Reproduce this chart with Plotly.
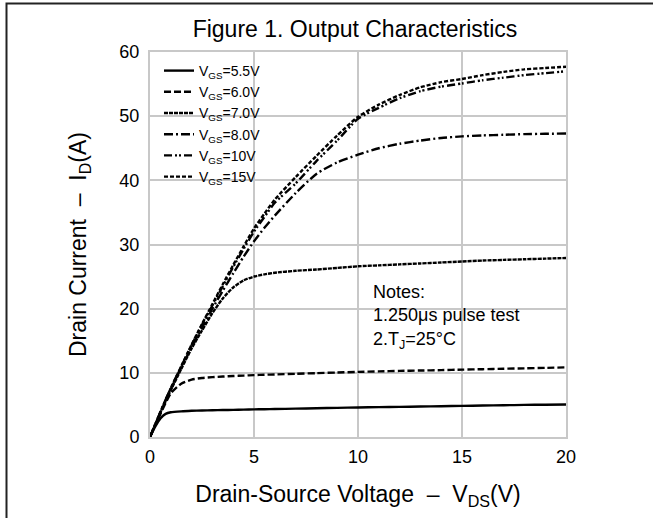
import plotly.graph_objects as go

# ---- data ----
vds = [0, 0.25, 0.5, 0.75, 1, 1.5, 2, 2.5, 3, 3.5, 4, 4.5, 5, 5.5, 6, 7, 8, 9, 10, 11, 12, 13, 14, 15, 16, 17, 18, 19, 20]

id_55 = [0, 1.6, 2.9, 3.6, 3.85, 4.0, 4.08, 4.13, 4.17, 4.2, 4.23, 4.27, 4.3, 4.33, 4.36, 4.42, 4.48, 4.54, 4.6, 4.65, 4.7, 4.75, 4.8, 4.85, 4.9, 4.95, 5.0, 5.03, 5.07]
id_60 = [0, 1.9, 3.6, 5.3, 6.8, 8.3, 8.95, 9.2, 9.33, 9.42, 9.5, 9.57, 9.65, 9.7, 9.75, 9.85, 9.95, 10.05, 10.15, 10.22, 10.3, 10.36, 10.42, 10.5, 10.57, 10.64, 10.7, 10.77, 10.85]
id_70 = [0, 1.9, 3.8, 5.6, 7.3, 10.6, 13.8, 16.6, 19.3, 21.6, 23.3, 24.4, 25.0, 25.35, 25.6, 25.9, 26.1, 26.35, 26.6, 26.75, 26.9, 27.05, 27.2, 27.35, 27.5, 27.6, 27.7, 27.8, 27.9]
id_80 = [0, 1.9, 3.8, 5.7, 7.5, 10.8, 14.0, 17.0, 20.0, 22.8, 25.5, 28.1, 30.5, 32.6, 34.5, 38.0, 41.0, 42.8, 44.0, 45.0, 45.7, 46.2, 46.6, 46.85, 47.0, 47.1, 47.2, 47.25, 47.3]
id_10 = [0, 1.95, 3.9, 5.8, 7.6, 11.0, 14.3, 17.5, 20.5, 23.5, 26.5, 29.3, 32.0, 34.3, 36.5, 39.5, 43.0, 46.2, 49.6, 51.3, 52.8, 53.9, 54.6, 55.1, 55.6, 56.0, 56.4, 56.7, 57.0]
id_15 = [0, 1.95, 3.9, 5.8, 7.6, 11.0, 14.4, 17.6, 20.7, 23.8, 26.8, 29.7, 32.5, 34.8, 37.0, 40.5, 43.8, 47.0, 49.9, 51.8, 53.3, 54.5, 55.3, 55.8, 56.4, 56.9, 57.3, 57.5, 57.7]

series = [
    ("V<sub>GS</sub>=5.5V", id_55, "solid"),
    ("V<sub>GS</sub>=6.0V", id_60, "7px,3px"),
    ("V<sub>GS</sub>=7.0V", id_70, "4px,1px"),
    ("V<sub>GS</sub>=8.0V", id_80, "9px,3px,2px,3px"),
    ("V<sub>GS</sub>=10V", id_10, "8px,3px,2px,2px,2px,3px"),
    ("V<sub>GS</sub>=15V", id_15, "4px,2px"),
]

x_ticks = [0, 5, 10, 15, 20]
y_ticks = [0, 10, 20, 30, 40, 50, 60]

FONT = "Liberation Sans, Arial, sans-serif"

fig = go.Figure()
for name, ys, dash in series:
    fig.add_trace(go.Scatter(
        x=vds, y=ys, name=name, mode="lines",
        line=dict(color="black", width=2.4, dash=dash, shape="spline", smoothing=0.6),
    ))

L, R, T, B = 150, 87, 52, 81
W, H = 653, 518
pw, ph = W - L - R, H - T - B

def px(p):
    return (p - L) / pw

def py(p):
    return (T + ph - p) / ph

shapes = [
    # white box behind legend
    dict(type="rect", xref="paper", yref="paper", layer="between",
         x0=px(151), x1=px(272), y0=py(188), y1=py(56),
         fillcolor="white", line=dict(width=0)),
    # white box behind notes
    dict(type="rect", xref="paper", yref="paper", layer="between",
         x0=px(362), x1=px(557), y0=py(362), y1=py(278),
         fillcolor="white", line=dict(width=0)),
    # outer frame
    dict(type="rect", xref="paper", yref="paper", layer="above",
         x0=px(6.5), x1=px(700), y0=py(600), y1=py(3.5),
         fillcolor="rgba(0,0,0,0)", line=dict(color="#222", width=2)),
]

fig.update_layout(
    width=W, height=H,
    margin=dict(l=L, r=R, t=T, b=B),
    paper_bgcolor="white", plot_bgcolor="white",
    font=dict(family=FONT, color="black", size=18),
    title=dict(text="Figure 1. Output Characteristics", xref="paper", x=px(355), xanchor="center",
               yref="container", y=1 - 29 / H, yanchor="middle", font=dict(size=23, family=FONT)),
    showlegend=True,
    legend=dict(x=px(159), y=py(55), xanchor="left", yanchor="top",
                bgcolor="rgba(0,0,0,0)", borderwidth=0,
                font=dict(size=14, family=FONT), tracegroupgap=0,
                itemwidth=30),
    shapes=shapes,
    annotations=[
        dict(text="Notes:<br>1.250μs pulse test<br>2.T<sub>J</sub>=25°C",
             xref="paper", yref="paper", x=px(371), y=py(280), xanchor="left", yanchor="top",
             align="left", showarrow=False, font=dict(size=18, family=FONT)),
    ],
)

fig.update_xaxes(
    range=[0, 20], tickvals=x_ticks, ticktext=[str(v) for v in x_ticks],
    showgrid=True, gridcolor="#c8c8c8", gridwidth=2,
    showline=True, linecolor="#c8c8c8", linewidth=2, mirror=True,
    zeroline=False, ticks="", ticklabelstandoff=2,
    tickfont=dict(size=18),
    title=dict(text="Drain-Source Voltage  –  V<sub>DS</sub>(V)", font=dict(size=23), standoff=20),
)
fig.update_yaxes(
    range=[0, 60], tickvals=y_ticks, ticktext=[str(v) for v in y_ticks],
    showgrid=True, gridcolor="#c8c8c8", gridwidth=2,
    showline=True, linecolor="#c8c8c8", linewidth=2, mirror=True,
    zeroline=False, ticks="", ticklabelstandoff=5,
    tickfont=dict(size=18),
    title=dict(text="Drain Current  –  I<sub>D</sub>(A)", font=dict(size=23), standoff=26),
)

fig.write_html("out.html")
